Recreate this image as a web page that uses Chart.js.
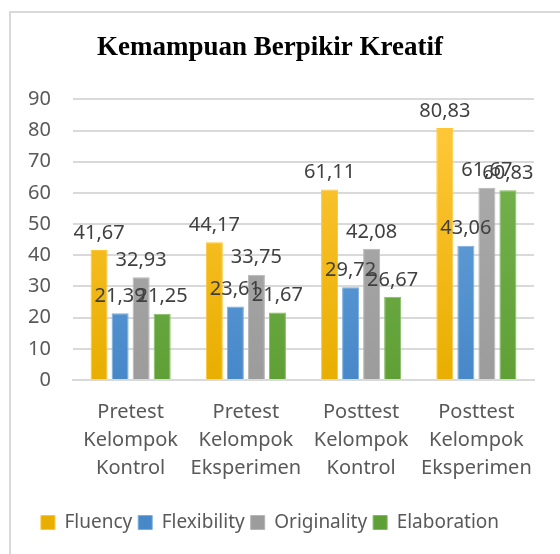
<!DOCTYPE html>
<html>
<head>
<meta charset="utf-8">
<script src="https://cdn.jsdelivr.net/npm/chart.js@4"></script>
<style>
  html, body { margin: 0; padding: 0; background: #fff; overflow: hidden; }
  #wrap { position: relative; width: 560px; height: 554px; }
  #frame { position: absolute; left: 9px; top: 11px; width: 600px; height: 600px;
           border-left: 2px solid #d9d9d9; border-top: 2px solid #d9d9d9; }
  canvas { position: absolute; left: 0; top: 0; }
</style>
</head>
<body>
<div id="wrap">
  <div id="frame"></div>
  <canvas id="chart" width="560" height="554"></canvas>
</div>
<script>
const categories = [
  ["Pretest", "Kelompok", "Kontrol"],
  ["Pretest", "Kelompok", "Eksperimen"],
  ["Posttest", "Kelompok", "Kontrol"],
  ["Posttest", "Kelompok", "Eksperimen"]
];
const seriesNames = ["Fluency", "Flexibility", "Originality", "Elaboration"];
const fluency = [41.67, 44.17, 61.11, 80.83];
const flexibility = [21.39, 23.61, 29.72, 43.06];
const originality = [32.93, 33.75, 42.08, 61.67];
const elaboration = [21.25, 21.67, 26.67, 60.83];
const yTicks = [0, 10, 20, 30, 40, 50, 60, 70, 80, 90];

// solid colour, gradient top, gradient bottom, border
const palette = [
  ["#FFC000", "#FFC83A", "#E8AE00", "#FFC533"],
  ["#5B9BD5", "#6DA7DD", "#4788C9", "#79AEDF"],
  ["#A5A5A5", "#ADADAD", "#9C9C9C", "#B5B5B5"],
  ["#70AD47", "#7AB554", "#5FA036", "#85BA62"]
];

function barFill(i) {
  return function (ctx) {
    if (ctx.type !== "data") return palette[i][0];
    const area = ctx.chart.chartArea;
    if (!area) return palette[i][0];
    const g = ctx.chart.ctx.createLinearGradient(0, area.top + 20, 0, area.bottom);
    g.addColorStop(0, palette[i][1]);
    g.addColorStop(1, palette[i][2]);
    return g;
  };
}

const values = [fluency, flexibility, originality, elaboration];
const datasets = seriesNames.map((name, i) => ({
  label: name,
  data: values[i],
  backgroundColor: barFill(i),
  borderColor: palette[i][3],
  borderWidth: 1,
  categoryPercentage: 0.73,
  barPercentage: 0.81
}));

const valueLabels = {
  id: "valueLabels",
  afterDatasetsDraw(chart) {
    const c = chart.ctx;
    c.save();
    c.font = "20px 'Noto Sans'";
    c.fillStyle = "#404040";
    c.textAlign = "center";
    c.textBaseline = "bottom";
    chart.data.datasets.forEach((ds, i) => {
      chart.getDatasetMeta(i).data.forEach((bar, j) => {
        const txt = ds.data[j].toFixed(2).replace(".", ",");
        c.fillText(txt, bar.x, bar.y - 7);
      });
    });
    c.restore();
  }
};

new Chart(document.getElementById("chart"), {
  type: "bar",
  data: { labels: categories, datasets: datasets },
  plugins: [valueLabels],
  options: {
    responsive: false,
    animation: false,
    layout: { padding: { left: 6, right: 26, top: 0, bottom: 12 } },
    plugins: {
      title: {
        display: true,
        text: "Kemampuan Berpikir Kreatif",
        color: "#000",
        font: { family: "'Liberation Serif'", size: 27, weight: "bold" },
        padding: { top: 32, bottom: 35 }
      },
      legend: {
        position: "bottom",
        labels: {
          color: "#595959",
          font: { family: "'Noto Sans'", size: 19 },
          boxWidth: 14,
          boxHeight: 14,
          padding: 6
        }
      },
      tooltip: { enabled: false }
    },
    scales: {
      x: {
        afterFit(scale) { scale.height += 7; },
        grid: { display: false, drawTicks: false },
        border: { color: "#d9d9d9", width: 2 },
        ticks: {
          color: "#595959",
          font: { family: "'Noto Sans'", size: 20, lineHeight: 1.4 },
          padding: 18,
          maxRotation: 0
        }
      },
      y: {
        min: 0,
        max: 90,
        afterBuildTicks(scale) { scale.ticks = yTicks.map(v => ({ value: v })); },
        afterFit(scale) { scale.width = 67; },
        grid: { color: "#d9d9d9", lineWidth: 2, drawTicks: false },
        border: { display: false },
        ticks: {
          color: "#595959",
          font: { family: "'Noto Sans'", size: 20 },
          padding: 22
        }
      }
    }
  }
});
</script>
</body>
</html>
